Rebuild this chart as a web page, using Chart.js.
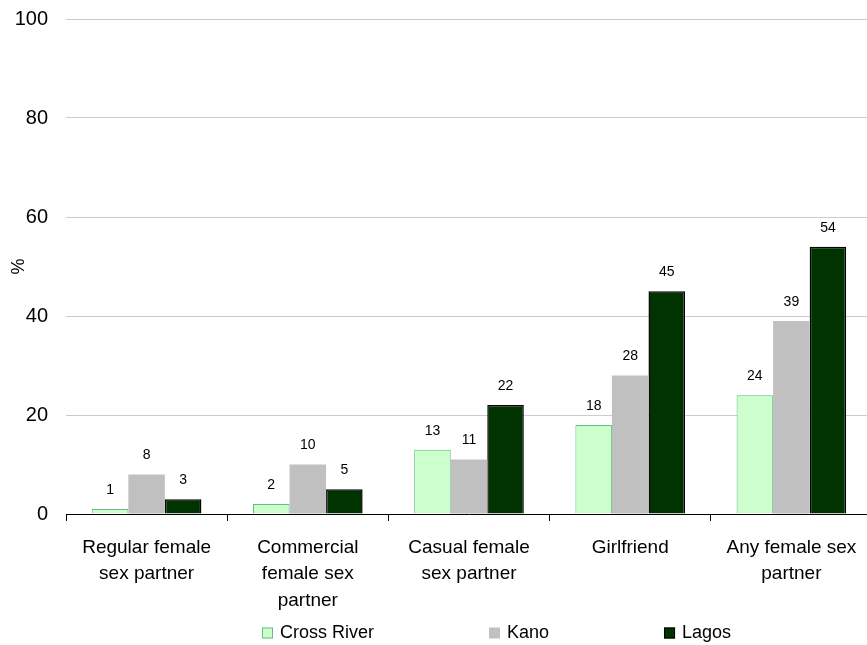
<!DOCTYPE html>
<html>
<head>
<meta charset="utf-8">
<script src="https://cdn.jsdelivr.net/npm/chart.js@4.4.1/dist/chart.umd.min.js"></script>
<style>
  html, body { margin: 0; padding: 0; background: #fff; overflow: hidden; }
  #wrap { width: 875px; height: 645px; }
</style>
</head>
<body>
<div id="wrap"><canvas id="myChart" width="875" height="645"></canvas></div>
<script>
// categories (multi-line labels as shown on the axis)
var categories = [
  ["Regular female", "sex partner"],
  ["Commercial", "female sex", "partner"],
  ["Casual female", "sex partner"],
  ["Girlfriend"],
  ["Any female sex", "partner"]
];
var crossRiver = [1, 2, 13, 18, 24];
var kano = [8, 10, 11, 28, 39];
var lagos = [3, 5, 22, 45, 54];
var yTicks = [0, 20, 40, 60, 80, 100];

var FONT = "'Liberation Sans', Arial, sans-serif";

// value labels above every bar
var barLabels = {
  id: 'barLabels',
  afterDatasetsDraw: function(chart) {
    var ctx = chart.ctx;
    ctx.save();
    ctx.font = "14px " + FONT;
    ctx.fillStyle = "#000";
    ctx.textAlign = "center";
    ctx.textBaseline = "middle";
    chart.data.datasets.forEach(function(ds, i) {
      chart.getDatasetMeta(i).data.forEach(function(bar, j) {
        ctx.fillText(ds.data[j], bar.x, bar.y - 19);
      });
    });
    ctx.restore();
  }
};

// legend along the bottom, spaced like the original
var bottomLegend = {
  id: 'bottomLegend',
  afterDraw: function(chart) {
    var ctx = chart.ctx;
    var x = 262, y = 633, box = 11, gap = 115;
    ctx.save();
    ctx.font = "18px " + FONT;
    ctx.textBaseline = "middle";
    chart.data.datasets.forEach(function(ds) {
      ctx.fillStyle = ds.backgroundColor;
      ctx.fillRect(x, y - box / 2, box, box);
      if (ds.borderWidth > 0) {
        ctx.strokeStyle = ds.borderColor;
        ctx.lineWidth = 1;
        ctx.strokeRect(x + 0.5, y - box / 2 + 0.5, box - 1, box - 1);
      }
      ctx.fillStyle = "#000";
      ctx.fillText(ds.label, x + box + 7, y);
      x += box + 7 + ctx.measureText(ds.label).width + gap;
    });
    ctx.restore();
  }
};

var ctx = document.getElementById("myChart").getContext("2d");
var myChart = new Chart(ctx, {
  type: "bar",
  data: {
    labels: categories,
    datasets: [
      { label: "Cross River", data: crossRiver, backgroundColor: "#ccffcc", borderColor: "#66bb88", borderWidth: 1 },
      { label: "Kano", data: kano, backgroundColor: "#c0c0c0", borderColor: "#c0c0c0", borderWidth: 0 },
      { label: "Lagos", data: lagos, backgroundColor: "#003300", borderColor: "#000000", borderWidth: 1.5 }
    ]
  },
  options: {
    responsive: false,
    animation: false,
    layout: { padding: { top: 19, right: 3, left: 0, bottom: 0 } },
    datasets: { bar: { categoryPercentage: 0.68, barPercentage: 1 } },
    plugins: { legend: { display: false }, tooltip: { enabled: false } },
    scales: {
      x: {
        grid: { offset: true, drawOnChartArea: false, drawTicks: true, tickLength: 7, color: "#000" },
        border: { display: true, color: "#000", width: 1 },
        ticks: { color: "#000", font: { family: FONT, size: 19, lineHeight: 1.4 }, padding: 13, maxRotation: 0, autoSkip: false },
        afterFit: function(scale) { scale.height = 131; }
      },
      y: {
        min: 0,
        max: 100,
        afterBuildTicks: function(scale) {
          scale.ticks = yTicks.map(function(v) { return { value: v }; });
        },
        grid: { color: "#cccccc", drawTicks: false },
        border: { display: false },
        ticks: { color: "#000", font: { family: FONT, size: 20 }, padding: 18 },
        title: { display: true, text: "%", color: "#000", font: { family: FONT, size: 18 }, padding: { top: 8, bottom: 0 } },
        afterFit: function(scale) {
          scale.width = 66;
          scale.paddingTop = 0;
          scale.paddingBottom = 0;
        }
      }
    }
  },
  plugins: [barLabels, bottomLegend]
});
</script>
</body>
</html>
